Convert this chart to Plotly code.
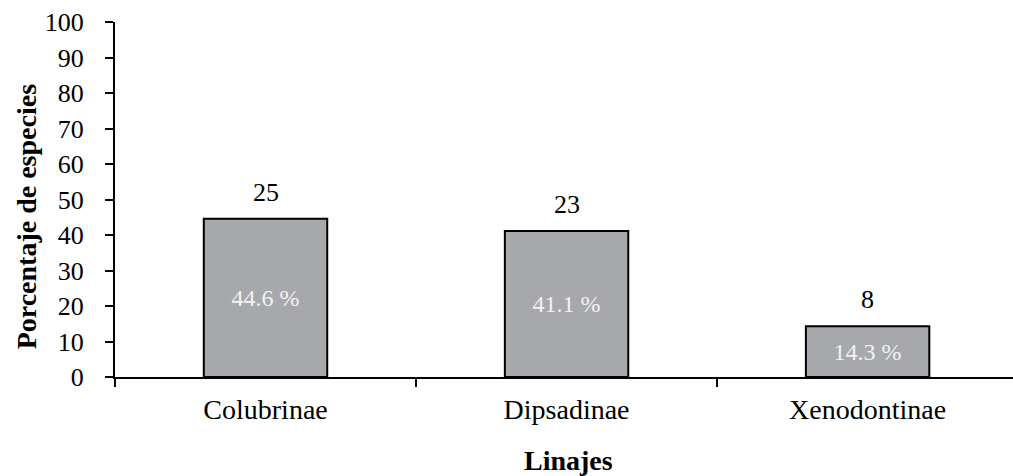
import plotly.graph_objects as go

# Species per snake lineage
linajes = ["Colubrinae", "Dipsadinae", "Xenodontinae"]
especies = [25, 23, 8]
porcentaje = [44.6, 41.1, 14.3]

FONT = "Liberation Serif"

fig = go.Figure()
fig.add_trace(go.Bar(
    x=linajes,
    y=porcentaje,
    width=0.41,
    marker=dict(color="#A7A8AB", line=dict(color="black", width=2)),
    text=[f"{p} %" for p in porcentaje],
    textposition="inside",
    insidetextanchor="middle",
    textangle=0,
    textfont=dict(family=FONT, size=24, color="#F2F2F2"),
    hoverinfo="skip",
))

# species counts above each bar
for cat, val, n in zip(linajes, porcentaje, especies):
    fig.add_annotation(
        x=cat, y=val, text=str(n), showarrow=False,
        yanchor="bottom", yshift=10,
        font=dict(family=FONT, size=26, color="black"),
    )

# axis titles
fig.add_annotation(
    xref="paper", yref="paper", x=-0.099, y=0.45,
    text="<b>Porcentaje de especies</b>", textangle=-90, showarrow=False,
    xanchor="center", yanchor="middle",
    font=dict(family=FONT, size=28, color="black"),
)
fig.add_annotation(
    xref="paper", yref="paper", x=0.505, y=-0.234,
    text="<b>Linajes</b>", showarrow=False,
    xanchor="center", yanchor="middle",
    font=dict(family=FONT, size=28, color="black"),
)

fig.update_layout(
    width=1013, height=476,
    margin=dict(l=115, r=0, t=22, b=99),
    paper_bgcolor="white", plot_bgcolor="white",
    showlegend=False,
    font=dict(family=FONT, size=26, color="black"),
)
fig.update_xaxes(
    range=[-0.5, 2.483],
    showline=True, linecolor="black", linewidth=2,
    ticks="outside", tickson="boundaries", ticklen=8, tickwidth=2, tickcolor="black",
    showgrid=False, zeroline=False,
    tickfont=dict(family=FONT, size=28),
    ticklabelstandoff=6,
)
fig.update_yaxes(
    range=[0, 100], dtick=10,
    showline=True, linecolor="black", linewidth=2,
    ticks="outside", ticklen=8, tickwidth=2, tickcolor="black",
    showgrid=False, zeroline=False,
    tickfont=dict(family=FONT, size=26),
    ticklabelstandoff=16,
)

fig.write_html("out.html")
